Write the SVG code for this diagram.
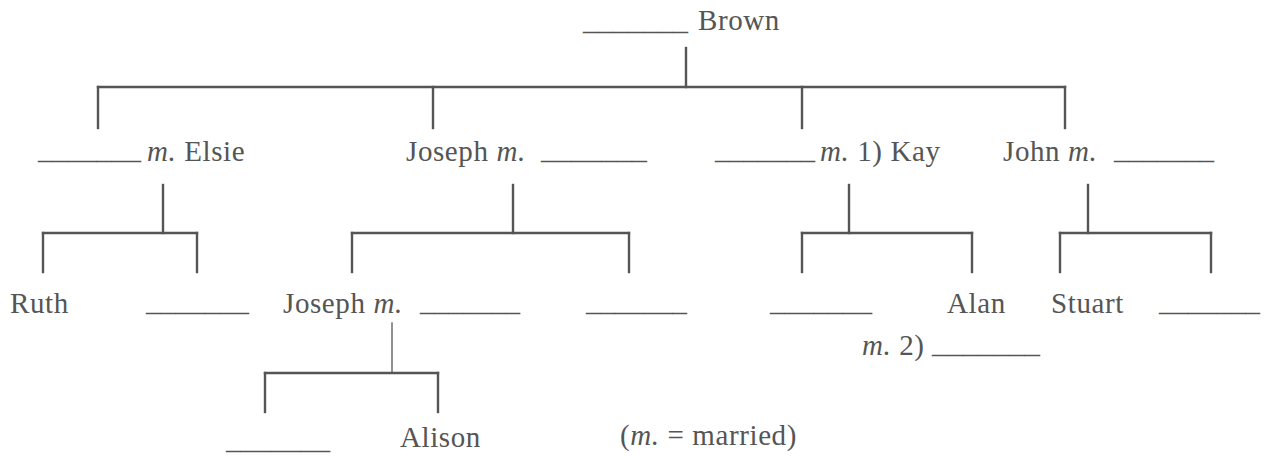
<svg xmlns="http://www.w3.org/2000/svg" width="1265" height="456" viewBox="0 0 1265 456">
<style>
text{font-family:"Liberation Serif","Times New Roman",serif;font-size:29px;letter-spacing:0.6px;fill:#555}
text.b{letter-spacing:0}
.i{font-style:italic}
.c line{stroke:#555;stroke-width:2.4;stroke-linecap:square}
.c line.thin{stroke-width:1.6;stroke:#777}
</style>
<rect width="1265" height="456" fill="#fff"/>
<g class="c" id="connectors">
<line x1="686" y1="48" x2="686" y2="87"/>
<line x1="98" y1="87" x2="1065" y2="87"/>
<line x1="98" y1="87" x2="98" y2="128"/>
<line x1="433" y1="87" x2="433" y2="128"/>
<line x1="802" y1="87" x2="802" y2="128"/>
<line x1="1065" y1="87" x2="1065" y2="128"/>
<line x1="163" y1="185" x2="163" y2="233"/>
<line x1="43" y1="233" x2="197" y2="233"/>
<line x1="43" y1="233" x2="43" y2="272"/>
<line x1="197" y1="233" x2="197" y2="272"/>
<line x1="513" y1="185" x2="513" y2="233"/>
<line x1="352" y1="233" x2="629" y2="233"/>
<line x1="352" y1="233" x2="352" y2="272"/>
<line x1="629" y1="233" x2="629" y2="272"/>
<line x1="849" y1="185" x2="849" y2="233"/>
<line x1="802" y1="233" x2="972" y2="233"/>
<line x1="802" y1="233" x2="802" y2="272"/>
<line x1="972" y1="233" x2="972" y2="272"/>
<line x1="1088" y1="185" x2="1088" y2="233"/>
<line x1="1060" y1="233" x2="1211" y2="233"/>
<line x1="1060" y1="233" x2="1060" y2="272"/>
<line x1="1211" y1="233" x2="1211" y2="272"/>
<line class="thin" x1="392" y1="323" x2="392" y2="373"/>
<line x1="265" y1="373" x2="438" y2="373"/>
<line x1="265" y1="373" x2="265" y2="412"/>
<line x1="438" y1="373" x2="438" y2="412"/>
</g>
<g id="brown"><text class="b" x="583" y="30" textLength="105" lengthAdjust="spacingAndGlyphs">_______</text><text x="698" y="30">Brown</text></g>
<g id="elsie"><text class="b" x="38" y="159" textLength="103" lengthAdjust="spacingAndGlyphs">_______</text><text x="147" y="161"><tspan class="i">m.</tspan> Elsie</text></g>
<g id="joseph1"><text x="406" y="161">Joseph <tspan class="i">m.</tspan></text><text class="b" x="541" y="159" textLength="106" lengthAdjust="spacingAndGlyphs">_______</text></g>
<g id="kay"><text class="b" x="715" y="159" textLength="100" lengthAdjust="spacingAndGlyphs">_______</text><text x="820" y="161"><tspan class="i">m.</tspan> 1) Kay</text></g>
<g id="john"><text x="1003" y="161">John <tspan class="i">m.</tspan></text><text class="b" x="1114" y="159" textLength="100" lengthAdjust="spacingAndGlyphs">_______</text></g>
<g id="ruth"><text x="10" y="313">Ruth</text></g>
<g id="blank1"><text class="b" x="146" y="311" textLength="103" lengthAdjust="spacingAndGlyphs">_______</text></g>
<g id="joseph2"><text x="283" y="313">Joseph <tspan class="i">m.</tspan></text><text class="b" x="420" y="311" textLength="100" lengthAdjust="spacingAndGlyphs">_______</text></g>
<g id="blank2"><text class="b" x="586" y="311" textLength="101" lengthAdjust="spacingAndGlyphs">_______</text></g>
<g id="blank3"><text class="b" x="770" y="311" textLength="102" lengthAdjust="spacingAndGlyphs">_______</text></g>
<g id="alan"><text x="947" y="313">Alan</text><text x="862" y="355"><tspan class="i">m.</tspan> 2)</text><text class="b" x="932" y="353" textLength="108" lengthAdjust="spacingAndGlyphs">_______</text></g>
<g id="stuart"><text x="1051" y="313">Stuart</text></g>
<g id="blank4"><text class="b" x="1159" y="311" textLength="101" lengthAdjust="spacingAndGlyphs">_______</text></g>
<g id="blank5"><text class="b" x="226" y="449" textLength="104" lengthAdjust="spacingAndGlyphs">_______</text></g>
<g id="alison"><text x="400" y="447">Alison</text></g>
<g id="legend"><text x="620" y="445">(<tspan class="i">m.</tspan> = married)</text></g>
</svg>
